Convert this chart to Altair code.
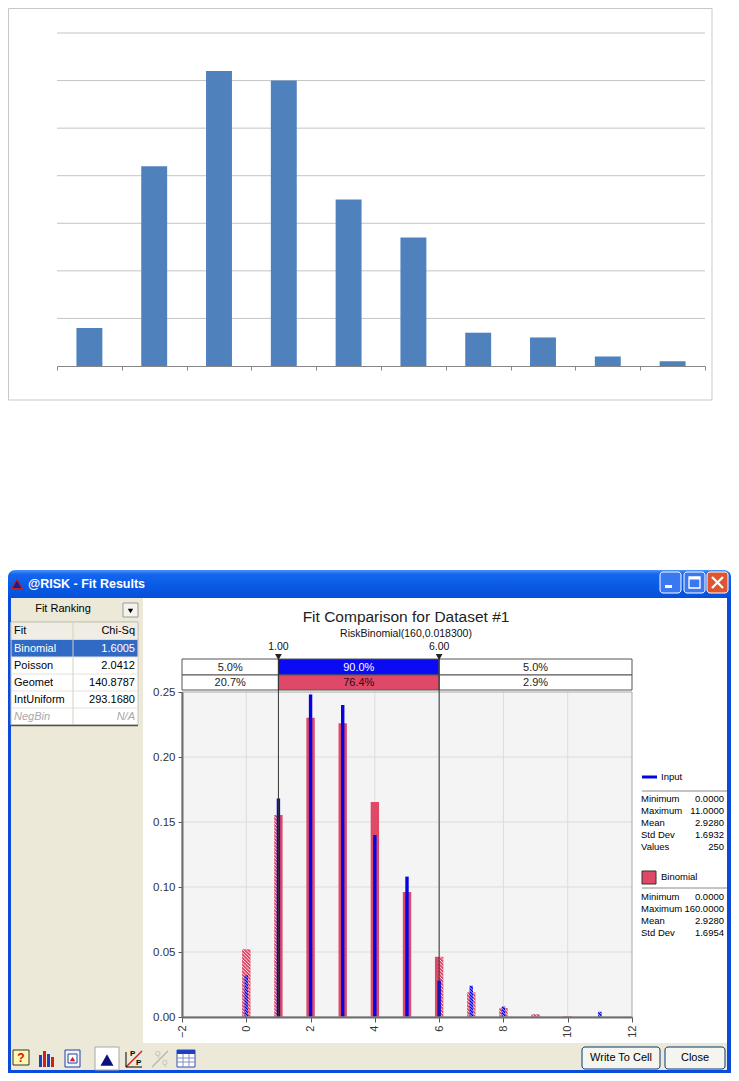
import altair as alt
import pandas as pd

# ---------------- data ----------------
top_categories = [1, 2, 3, 4, 5, 6, 7, 8, 9, 10]
top_counts = [8, 42, 62, 60, 35, 27, 7, 6, 2, 1]
top_gridlines = [10, 20, 30, 40, 50, 60, 70]
top_axis_ticks = [0.5, 1.5, 2.5, 3.5, 4.5, 5.5, 6.5, 7.5, 8.5, 9.5, 10.5]

input_values = [0, 1, 2, 3, 4, 5, 6, 7, 8, 11]
input_counts = [8, 42, 62, 60, 35, 27, 7, 6, 2, 1]
n_values = 250

binom_k = [0, 1, 2, 3, 4, 5, 6, 7, 8, 9, 10]
binom_p = [0.0521, 0.1553, 0.2301, 0.2259, 0.1653, 0.0961, 0.0463, 0.0190, 0.0068, 0.0021, 0.0006]

fit_x_domain = [-2, 12]
fit_y_domain = [0, 0.25]
fit_x_ticks = [-2, 0, 2, 4, 6, 8, 10, 12]
fit_y_ticks = [0, 0.05, 0.10, 0.15, 0.20, 0.25]
fit_x_grid = [0, 2, 4, 6, 8, 10]
fit_y_grid = [0.05, 0.10, 0.15, 0.20]
delimiters = [1.0, 6.0]
input_pct = ["5.0%", "90.0%", "5.0%"]
fit_pct = ["20.7%", "76.4%", "2.9%"]

fit_names = ["Binomial", "Poisson", "Geomet", "IntUniform", "NegBin"]
fit_chisq = ["1.6005", "2.0412", "140.8787", "293.1680", "N/A"]

input_stat_names = ["Minimum", "Maximum", "Mean", "Std Dev", "Values"]
input_stat_values = ["0.0000", "11.0000", "2.9280", "1.6932", "250"]
binom_stat_names = ["Minimum", "Maximum", "Mean", "Std Dev"]
binom_stat_values = ["0.0000", "160.0000", "2.9280", "1.6954"]

# ---------------- helpers ----------------
FONT = "Liberation Sans"
W, H = 723, 1065
OFF = 8
RED = "#E04868"
BLUE = "#0505E0"
BEIGE = "#ECE9D8"
XPBLUE = "#0A4BDC"


def cx(px):
    return float(min(max(px - OFF, 0), W))


def cy(py):
    return float(min(max(py - OFF, 0), H))


ONE = pd.DataFrame({"k": [0]})


def rect(x0, y0, x1, y1, fill="white", stroke=None, sw=1, radius=None,
         top_radius=None, fill_opacity=None):
    kw = {"fill": fill}
    if stroke is not None:
        kw["stroke"] = stroke
        kw["strokeWidth"] = sw
    if radius is not None:
        kw["cornerRadius"] = radius
    if top_radius is not None:
        kw["cornerRadiusTopLeft"] = top_radius
        kw["cornerRadiusTopRight"] = top_radius
    if fill_opacity is not None:
        kw["fillOpacity"] = fill_opacity
    return alt.Chart(ONE).mark_rect(**kw).encode(
        x=alt.value(cx(x0)), x2=alt.value(cx(x1)),
        y=alt.value(cy(y0)), y2=alt.value(cy(y1)))


def line(x0, y0, x1, y1, color="#000", sw=1):
    return alt.Chart(ONE).mark_rule(color=color, strokeWidth=sw).encode(
        x=alt.value(cx(x0)), x2=alt.value(cx(x1)),
        y=alt.value(cy(y0)), y2=alt.value(cy(y1)))


def text(x, y, s, size=10, color="#000", align="left", weight="normal",
         style="normal", font=FONT):
    return alt.Chart(ONE).mark_text(
        fontSize=size, color=color, align=align, baseline="middle",
        fontWeight=weight, fontStyle=style, font=font).encode(
        x=alt.value(cx(x)), y=alt.value(cy(y)), text=alt.value(s))


def point(x, y, shape, size, fill, stroke=None, sw=1):
    kw = dict(shape=shape, size=size, filled=True, fill=fill, opacity=1)
    if stroke is not None:
        kw["stroke"] = stroke
        kw["strokeWidth"] = sw
    return alt.Chart(ONE).mark_point(**kw).encode(
        x=alt.value(cx(x)), y=alt.value(cy(y)))


layers = []

# ---------------- top chart (Excel style) ----------------
TX = alt.Scale(domain=[0.5, 10.5], range=[cx(57), cx(705)], nice=False, zero=False)
TY = alt.Scale(domain=[0, 70], range=[cy(366), cy(33)], nice=False, zero=False)

layers.append(rect(8.5, 8.5, 712, 400, fill="white", fill_opacity=0, stroke="#C8C8C8"))

top_df = pd.DataFrame({"cat": top_categories, "count": top_counts})
top_grid = alt.Chart(pd.DataFrame({"g": top_gridlines})).mark_rule(color="#C4C4C4").encode(
    y=alt.Y("g:Q", scale=TY, axis=None),
    x=alt.value(cx(57)), x2=alt.value(cx(705)))
top_bars = alt.Chart(top_df).transform_calculate(
    lo="datum.cat - 0.2", hi="datum.cat + 0.2"
).mark_rect(color="#4F81BD").encode(
    x=alt.X("lo:Q", scale=TX, axis=alt.Axis(
        orient="bottom", offset=cy(366) - H, values=top_axis_ticks, labels=False,
        tickSize=4, tickColor="#868686", domainColor="#868686", grid=False,
        title=None, zindex=1)),
    x2="hi:Q",
    y=alt.Y("count:Q", scale=TY, axis=alt.Axis(
        orient="left", offset=-cx(57), values=[0] + top_gridlines, labels=False,
        tickSize=4, tickColor="#868686", domainColor="#868686", grid=False,
        title=None, zindex=1)),
    y2=alt.datum(0))
layers.append(alt.layer(top_grid, top_bars))

# ---------------- window chrome ----------------
layers.append(rect(11, 597, 727, 1070, fill=BEIGE))
title_grad = alt.LinearGradient(
    gradient="linear", x1=0, x2=0, y1=0, y2=1,
    stops=[alt.GradientStop(offset=0, color="#4A94F9"),
           alt.GradientStop(offset=0.15, color="#1566EE"),
           alt.GradientStop(offset=0.55, color="#0A5AE6"),
           alt.GradientStop(offset=1, color="#0650D8")])
layers.append(rect(8, 570, 731, 598, fill=title_grad, top_radius=7))
layers.append(rect(8, 597, 11, 1073, fill=XPBLUE))
layers.append(rect(727, 597, 731, 1073, fill=XPBLUE))
layers.append(rect(8, 1070, 731, 1073, fill=XPBLUE))
layers.append(point(17, 584, "triangle-up", 110, "#1C1C8C", stroke="#C02020", sw=1.2))
layers.append(text(28, 584, "@RISK - Fit Results", size=12.5, color="white", weight="bold"))
for bx0, bx1, col in [(660, 681, "#3A78F2"), (684, 705, "#3A78F2"), (707, 728, "#E0542E")]:
    layers.append(rect(bx0, 572, bx1, 593, fill=col, stroke="white", sw=1, radius=3))
layers.append(rect(665, 585, 672, 588, fill="white"))
layers.append(rect(689, 577, 700, 588, fill="white", fill_opacity=0, stroke="white", sw=1.3))
layers.append(rect(689, 577, 700, 579.5, fill="white"))
layers.append(line(712, 577, 723, 588, "white", 2.3))
layers.append(line(723, 577, 712, 588, "white", 2.3))

layers.append(rect(143, 598, 727, 1043, fill="white"))

# ---------------- left panel ----------------
layers.append(text(63, 609, "Fit Ranking", size=11, align="center"))
layers.append(rect(123, 603, 138, 617, fill="#F4F3EE", stroke="#9A9A9A"))
layers.append(point(130.5, 611, "triangle-down", 28, "#000"))
layers.append(rect(11, 622, 138, 725, fill="white", stroke="#C8C4B8"))
layers.append(rect(11, 622, 138, 640, fill="#EFEDE4", stroke="#C8C4B8"))
layers.append(rect(11.5, 640, 137.5, 657, fill="#316AC5"))
for yy in [657, 674, 691, 708]:
    layers.append(line(11, yy, 138, yy, "#E4E2DA", 1))
layers.append(line(73, 622, 73, 725, "#D4D0C4", 1))
layers.append(line(11, 725.5, 138, 725.5, "#505050", 1.5))
layers.append(text(14, 631, "Fit", size=11))
layers.append(text(135, 631, "Chi-Sq", size=11, align="right"))
for i, (nm, val) in enumerate(zip(fit_names, fit_chisq)):
    yy = 648.5 + i * 17
    if i == 0:
        col, st = "white", "normal"
    elif val == "N/A":
        col, st = "#A8A8A8", "italic"
    else:
        col, st = "#000", "normal"
    layers.append(text(14, yy, nm, size=11, color=col, style=st))
    layers.append(text(135, yy, val, size=11, color=col, style=st, align="right"))

# ---------------- fit comparison plot ----------------
FX = alt.Scale(domain=fit_x_domain, range=[cx(182), cx(632)], nice=False, zero=False)
FY = alt.Scale(domain=fit_y_domain, range=[cy(1017), cy(692)], nice=False, zero=False)
PXX = (cx(632) - cx(182)) / (fit_x_domain[1] - fit_x_domain[0])
PXY = (cy(1017) - cy(692)) / (fit_y_domain[1] - fit_y_domain[0])

layers.append(text(406, 617, "Fit Comparison for Dataset #1", size=15.5, color="#222", align="center"))
layers.append(text(406, 634, "RiskBinomial(160,0.018300)", size=10.5, color="#111", align="center"))

fit_bg = alt.Chart(ONE).mark_rect(fill="#F4F4F4").encode(
    x=alt.datum(fit_x_domain[0]), x2=alt.datum(fit_x_domain[1]),
    y=alt.datum(fit_y_domain[0]), y2=alt.datum(fit_y_domain[1]))
fit_xgrid = alt.Chart(pd.DataFrame({"g": fit_x_grid})).mark_rule(color="#DCDCDC").encode(
    x="g:Q", y=alt.datum(fit_y_domain[0]), y2=alt.datum(fit_y_domain[1]))
fit_ygrid = alt.Chart(pd.DataFrame({"g": fit_y_grid})).mark_rule(color="#DCDCDC").encode(
    y="g:Q", x=alt.datum(fit_x_domain[0]), x2=alt.datum(fit_x_domain[1]))


def hatch(lo, hi, top, step=3.4):
    """diagonal white stripes over a bar piece (outside the delimiters)"""
    w = (hi - lo) * PXX
    h = top * PXY
    segs = []
    t = -w
    while t < h:
        s0 = max(0.0, t + w - h)
        s1 = min(w, t + w)
        if s1 - s0 > 0.4:
            segs.append({"x0": lo + s0 / PXX, "y0": (t + w - s0) / PXY,
                         "x1": lo + s1 / PXX, "y1": (t + w - s1) / PXY})
        t += step
    return segs


# binomial bars split at the delimiters
half = 0.13
pieces = []
for k, p in zip(binom_k, binom_p):
    edges = [k - half] + [d for d in delimiters if k - half < d < k + half] + [k + half]
    for a, b in zip(edges[:-1], edges[1:]):
        mid = (a + b) / 2
        pieces.append({"lo": a, "hi": b, "p": p,
                       "inside": bool(delimiters[0] <= mid <= delimiters[1])})
pieces_df = pd.DataFrame(pieces)
red_hatch_segs = []
for _, r in pieces_df[~pieces_df["inside"]].iterrows():
    red_hatch_segs += hatch(r["lo"], r["hi"], r["p"])

x_axis = alt.Axis(orient="bottom", offset=cy(1017) - H, values=fit_x_ticks,
                  labelAngle=270, labelFontSize=11, labelFont=FONT, labelColor="#333",
                  tickColor="#555", tickSize=5, domainColor="#6E6E6E", domainWidth=2,
                  grid=False, labelPadding=3, labelFlush=False, labelOverlap=False,
                  title=None, zindex=1, format="d")
y_axis = alt.Axis(orient="left", offset=-cx(182), values=fit_y_ticks, format=".2f",
                  labelFontSize=11.5, labelFont=FONT, labelColor="#333",
                  tickColor="#555", tickSize=4, domainColor="#6E6E6E", domainWidth=2,
                  grid=False, labelPadding=3, labelFlush=False, labelOverlap=False,
                  title=None, zindex=1)

red_bars = alt.Chart(pieces_df).mark_rect(color=RED).encode(
    x=alt.X("lo:Q", scale=FX, axis=x_axis), x2="hi:Q",
    y=alt.Y("p:Q", scale=FY, axis=y_axis), y2=alt.datum(0))
red_hatch = alt.Chart(pd.DataFrame(red_hatch_segs)).mark_rule(
    color="white", strokeWidth=1, opacity=0.85).encode(
    x="x0:Q", y="y0:Q", x2="x1:Q", y2="y1:Q")

inp_df = pd.DataFrame({"v": input_values, "c": input_counts})
inp_df["p"] = inp_df["c"] / n_values
inp_df["inside"] = (inp_df["v"] >= delimiters[0]) & (inp_df["v"] <= delimiters[1])
blue_half = 1.7 / PXX
blue_bars = alt.Chart(inp_df).transform_calculate(
    lo="datum.v - %f" % blue_half, hi="datum.v + %f" % blue_half
).mark_rect(color=BLUE).encode(
    x="lo:Q", x2="hi:Q", y="p:Q", y2=alt.datum(0))
blue_hatch_segs = []
for _, r in inp_df[~inp_df["inside"]].iterrows():
    blue_hatch_segs += hatch(r["v"] - blue_half, r["v"] + blue_half, r["p"], step=3.0)
blue_hatch = alt.Chart(pd.DataFrame(blue_hatch_segs)).mark_rule(
    color="white", strokeWidth=1, opacity=0.8).encode(
    x="x0:Q", y="y0:Q", x2="x1:Q", y2="y1:Q")

fit_frame = alt.Chart(ONE).mark_rect(fill="white", fillOpacity=0, stroke="#A8A8A8").encode(
    x=alt.datum(fit_x_domain[0]), x2=alt.datum(fit_x_domain[1]),
    y=alt.datum(fit_y_domain[0]), y2=alt.datum(fit_y_domain[1]))

delim_df = pd.DataFrame({"d": delimiters, "lab": ["%.2f" % d for d in delimiters]})
delim_lines = alt.Chart(delim_df).mark_rule(color="#333", strokeWidth=1).encode(
    x="d:Q", y=alt.value(cy(659)), y2=alt.value(cy(1017)))

bounds = [fit_x_domain[0]] + delimiters + [fit_x_domain[1]]
box_layers = []
row_fills = [["white", "#0A0AF5", "white"], ["white", RED, "white"]]
row_text = [["#222", "white", "#222"], ["#222", "#2A0A10", "#222"]]
row_y = [(659, 675), (675, 690)]
row_labels = [input_pct, fit_pct]
for r in range(2):
    for s in range(3):
        box_layers.append(alt.Chart(ONE).mark_rect(
            fill=row_fills[r][s], stroke="#555", strokeWidth=1).encode(
            x=alt.datum(bounds[s]), x2=alt.datum(bounds[s + 1]),
            y=alt.value(cy(row_y[r][0])), y2=alt.value(cy(row_y[r][1]))))
        box_layers.append(alt.Chart(ONE).mark_text(
            fontSize=11, font=FONT, color=row_text[r][s], align="center",
            baseline="middle").encode(
            x=alt.datum((bounds[s] + bounds[s + 1]) / 2),
            y=alt.value(cy((row_y[r][0] + row_y[r][1]) / 2 + 0.5)),
            text=alt.value(row_labels[r][s])))

delim_marks = alt.Chart(delim_df).mark_point(
    shape="triangle-down", filled=True, size=45, color="#222", opacity=1).encode(
    x="d:Q", y=alt.value(cy(657)))
delim_labels = alt.Chart(delim_df).mark_text(
    fontSize=10.5, font=FONT, color="#111", align="center", baseline="middle").encode(
    x="d:Q", y=alt.value(cy(647)), text="lab:N")

fit_plot = alt.layer(fit_bg, fit_xgrid, fit_ygrid, red_bars, red_hatch,
                     blue_bars, blue_hatch, fit_frame, *box_layers,
                     delim_lines, delim_marks, delim_labels)
layers.append(fit_plot)

# ---------------- legend / statistics ----------------
LS = 9.5
layers.append(line(642, 777, 657, 777, BLUE, 3))
layers.append(text(661, 777, "Input", size=LS))
layers.append(line(642, 791, 727, 791, "#8A8A8A", 1))
for i, (nm, val) in enumerate(zip(input_stat_names, input_stat_values)):
    yy = 799 + i * 12
    layers.append(text(641, yy, nm, size=LS))
    layers.append(text(724, yy, val, size=LS, align="right"))
layers.append(rect(642, 871, 656, 884, fill=RED, stroke="#333"))
layers.append(text(661, 877, "Binomial", size=LS))
layers.append(line(642, 888, 727, 888, "#8A8A8A", 1))
for i, (nm, val) in enumerate(zip(binom_stat_names, binom_stat_values)):
    yy = 897 + i * 12
    layers.append(text(641, yy, nm, size=LS))
    layers.append(text(724, yy, val, size=LS, align="right"))

# ---------------- bottom toolbar ----------------
layers.append(rect(13, 1050, 29, 1065, fill="#FFF6B0", stroke="#333"))
layers.append(text(21, 1058, "?", size=12, color="#D01010", weight="bold", align="center"))
layers.append(rect(39, 1055, 42, 1067, fill="#2040C0"))
layers.append(rect(43, 1051, 46, 1067, fill="#D02020"))
layers.append(rect(47, 1054, 50, 1067, fill="#2040C0"))
layers.append(rect(51, 1057, 54, 1067, fill="#D02020"))
layers.append(rect(65, 1050, 80, 1067, fill="#EEF2FA", stroke="#2040A0"))
layers.append(rect(68, 1054, 77, 1063, fill="white", stroke="#2040A0"))
layers.append(point(72.5, 1059, "triangle-up", 30, "#D02020"))
layers.append(rect(95, 1047, 119, 1070, fill="white", stroke="#A8A8A8"))
layers.append(point(107, 1060, "triangle-up", 170, "#10107A"))
layers.append(line(126, 1067, 142, 1051, "#D02020", 1.5))
layers.append(line(126, 1052, 126, 1067, "#000", 1))
layers.append(line(126, 1067, 142, 1067, "#000", 1))
layers.append(text(130, 1054, "P", size=8, weight="bold"))
layers.append(text(136, 1063, "P", size=8, weight="bold"))
layers.append(line(152, 1067, 168, 1051, "#B8B8B0", 1.5))
layers.append(text(155, 1054, "Q", size=7, color="#B8B8B0"))
layers.append(text(162, 1063, "Q", size=7, color="#B8B8B0"))
layers.append(rect(177, 1050, 195, 1067, fill="white", stroke="#3050B0"))
layers.append(rect(177, 1050, 195, 1054, fill="#2040C0"))
for yy in [1058, 1062]:
    layers.append(line(177, yy, 195, yy, "#8090C8", 1))
for xx in [183, 189]:
    layers.append(line(xx, 1054, xx, 1067, "#8090C8", 1))

layers.append(rect(582, 1047, 660, 1069, fill="#F5F4EF", stroke="#003C74", radius=3))
layers.append(text(621, 1058, "Write To Cell", size=11, align="center"))
layers.append(rect(665, 1047, 725, 1069, fill="#F5F4EF", stroke="#003C74", radius=3))
layers.append(text(695, 1058, "Close", size=11, align="center"))

chart = alt.layer(*layers).resolve_scale(
    x="independent", y="independent"
).properties(
    width=W, height=H, padding=0, background="white",
    autosize=alt.AutoSizeParams(type="none"),
).configure_view(stroke="transparent")

chart.save("out.html", embed_options={"renderer": "svg", "actions": False})
